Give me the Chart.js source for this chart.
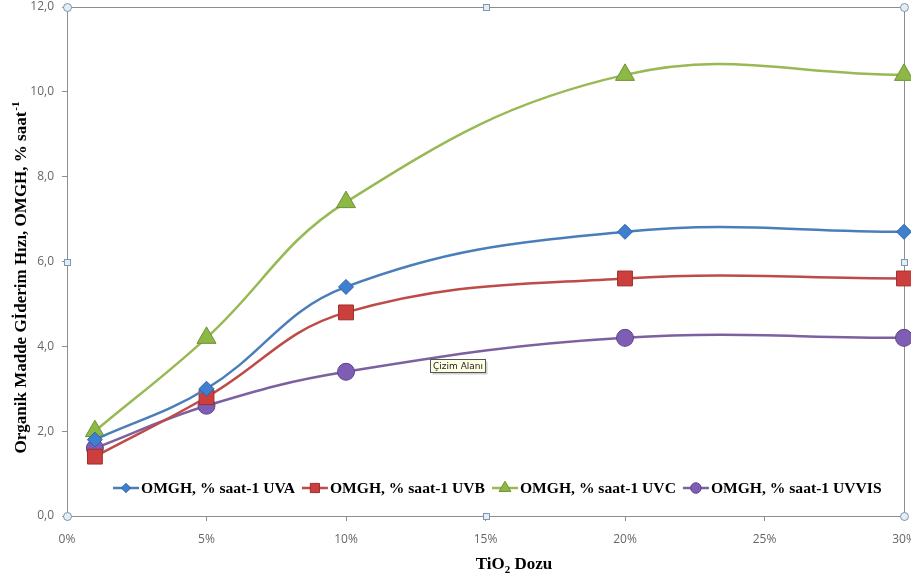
<!DOCTYPE html>
<html>
<head>
<meta charset="utf-8">
<script src="https://cdn.jsdelivr.net/npm/chart.js@4.4.1/dist/chart.umd.min.js"></script>
<style>
  html, body { margin: 0; padding: 0; background: #ffffff; }
  #wrap { width: 911px; height: 583px; position: relative; }
</style>
</head>
<body>
<div id="wrap"><canvas id="c" width="911" height="583"></canvas></div>
<script>
// TiO2 dose (%) and removal rates per lamp type
const doses = [1, 5, 10, 20, 30];
const uva   = [1.8, 3.0, 5.4, 6.7, 6.7];
const uvb   = [1.4, 2.8, 4.8, 5.6, 5.6];
const uvc   = [2.0, 4.2, 7.4, 10.4, 10.4];
const uvvis = [1.6, 2.6, 3.4, 4.2, 4.2];
const seriesLabels = ['OMGH, % saat-1 UVA', 'OMGH, % saat-1 UVB', 'OMGH, % saat-1 UVC', 'OMGH, % saat-1 UVVIS'];
const xTitle = ['TiO', '2', ' Dozu'];
const yTitle = ['Organik Madde Gİderim Hızı, OMGH, % saat', '-1'];
const hoverNote = 'Çizim Alanı';

const toPts = vals => vals.map((v, i) => ({ x: doses[i], y: v }));

function makeSet(label, vals, line, fill, edge, style, r) {
  return {
    label, data: toPts(vals),
    borderColor: line, borderWidth: 2.5,
    pointStyle: style, pointRadius: r, pointHoverRadius: r,
    pointBackgroundColor: fill, pointBorderColor: edge, pointBorderWidth: 1,
    tension: 0.4, fill: false, clip: false
  };
}

const datasets = [
  makeSet(seriesLabels[0], uva,   '#4A7EBB', '#3F7FD0', '#2F63A3', 'rectRot', 7.5),
  makeSet(seriesLabels[1], uvb,   '#BE4B48', '#CC3F3C', '#9A302E', 'rect', 10.5),
  makeSet(seriesLabels[2], uvc,   '#98B954', '#8DB846', '#6E9236', 'triangle', 11),
  makeSet(seriesLabels[3], uvvis, '#7D60A0', '#7E5DB5', '#5E4489', 'circle', 8.5)
];

const frameColor = '#8E8E8E';

const framePlugin = {
  id: 'frame',
  beforeDatasetsDraw(chart) {
    const { ctx, chartArea: a } = chart;
    ctx.save();
    ctx.strokeStyle = frameColor;
    ctx.lineWidth = 1;
    ctx.beginPath();
    ctx.moveTo(a.left + 0.5, a.top + 0.5);
    ctx.lineTo(a.right + 0.5, a.top + 0.5);
    ctx.lineTo(a.right + 0.5, a.bottom + 0.5);
    ctx.stroke();
    ctx.restore();
  },
  afterDatasetsDraw(chart) {
    const { ctx, chartArea: a } = chart;
    // legend row inside the plot area
    ctx.save();
    ctx.font = 'bold 15.6px "Liberation Serif", "Times New Roman", serif';
    ctx.textBaseline = 'middle';
    let x = a.left + 46;
    const y = 488;
    chart.data.datasets.forEach(ds => {
      ctx.strokeStyle = ds.borderColor;
      ctx.lineWidth = 2.5;
      ctx.beginPath();
      ctx.moveTo(x, y); ctx.lineTo(x + 26, y);
      ctx.stroke();
      ctx.fillStyle = ds.pointBackgroundColor;
      ctx.strokeStyle = ds.pointBorderColor;
      ctx.lineWidth = 1;
      Chart.helpers.drawPoint(ctx, { pointStyle: ds.pointStyle, radius: ds.pointRadius * 0.62, rotation: 0, borderWidth: 1 }, x + 13, y);
      ctx.fillStyle = '#000000';
      ctx.fillText(ds.label, x + 28, y + 1);
      x += 28 + ctx.measureText(ds.label).width + 7;
    });
    ctx.restore();
  },
  afterDraw(chart) {
    const { ctx, chartArea: a } = chart;
    ctx.save();
    // axis titles
    ctx.fillStyle = '#000000';
    const big = 'bold 17px "Liberation Serif", "Times New Roman", serif';
    const small = 'bold 11px "Liberation Serif", "Times New Roman", serif';
    ctx.textBaseline = 'alphabetic';
    ctx.font = big;
    const w0 = ctx.measureText(xTitle[0]).width;
    const w2 = ctx.measureText(xTitle[2]).width;
    ctx.font = small;
    const w1 = ctx.measureText(xTitle[1]).width;
    let tx = 514 - (w0 + w1 + w2) / 2;
    const ty = 569;
    ctx.font = big; ctx.fillText(xTitle[0], tx, ty); tx += w0;
    ctx.font = small; ctx.fillText(xTitle[1], tx, ty + 4); tx += w1;
    ctx.font = big; ctx.fillText(xTitle[2], tx, ty);

    ctx.save();
    ctx.translate(26, 278);
    ctx.rotate(-Math.PI / 2);
    ctx.font = big;
    const m0 = ctx.measureText(yTitle[0]).width;
    ctx.font = small;
    const m1 = ctx.measureText(yTitle[1]).width;
    let sx = -(m0 + m1) / 2;
    ctx.font = big; ctx.fillText(yTitle[0], sx, 0); sx += m0;
    ctx.font = small; ctx.fillText(yTitle[1], sx + 1, -7);
    ctx.restore();

    // selection handles around the plot area
    const cx = (a.left + a.right) / 2, cy = (a.top + a.bottom) / 2;
    ctx.lineWidth = 1;
    ctx.strokeStyle = '#7E97AE';
    ctx.fillStyle = '#E4EDF5';
    [[a.left, a.top], [a.right, a.top], [a.left, a.bottom], [a.right, a.bottom]].forEach(([px, py]) => {
      ctx.beginPath();
      ctx.arc(px + 0.5, py + 0.5, 4, 0, Math.PI * 2);
      ctx.fill(); ctx.stroke();
    });
    [[cx, a.top], [cx, a.bottom], [a.left, cy], [a.right, cy]].forEach(([px, py]) => {
      ctx.fillRect(Math.round(px) - 2.5, Math.round(py) - 2.5, 6, 6);
      ctx.strokeRect(Math.round(px) - 2.5, Math.round(py) - 2.5, 6, 6);
    });

    // hover note box
    ctx.font = '9px "DejaVu Sans", sans-serif';
    const nw = ctx.measureText(hoverNote).width;
    const bx = 430.5, by = 359.5, bw = Math.round(nw) + 5, bh = 13;
    ctx.fillStyle = 'rgba(0,0,0,0.18)';
    ctx.fillRect(bx + 2, by + 2, bw, bh);
    ctx.fillStyle = '#FFFFE6';
    ctx.fillRect(bx, by, bw, bh);
    ctx.strokeStyle = '#555555';
    ctx.strokeRect(bx, by, bw, bh);
    ctx.fillStyle = '#222222';
    ctx.textBaseline = 'middle';
    ctx.fillText(hoverNote, bx + 2.5, by + bh / 2 + 0.5);
    ctx.restore();
  }
};

const tickFont = { family: '"Open Sans", "DejaVu Sans", sans-serif', size: 12 };

new Chart(document.getElementById('c'), {
  type: 'line',
  data: { datasets },
  options: {
    responsive: false,
    animation: false,
    events: [],
    layout: { autoPadding: false, padding: { top: 7, right: 7, left: 0, bottom: 0 } },
    plugins: { legend: { display: false }, tooltip: { enabled: false } },
    scales: {
      x: {
        type: 'linear', min: 0, max: 30,
        ticks: { stepSize: 5, color: '#666666', font: tickFont, padding: 11, maxRotation: 0,
                 callback: v => v + '%' },
        grid: { drawOnChartArea: false, drawTicks: true, tickLength: 5, color: frameColor },
        border: { color: frameColor, width: 1 },
        afterFit(s) { s.height = 67; s.paddingLeft = 0; s.paddingRight = 0; }
      },
      y: {
        min: 0, max: 12,
        ticks: { stepSize: 2, color: '#666666', font: tickFont, padding: 8,
                 callback: v => v.toFixed(1).replace('.', ',') },
        grid: { drawOnChartArea: false, drawTicks: true, tickLength: 5, color: frameColor },
        border: { color: frameColor, width: 1 },
        afterFit(s) { s.width = 67; s.paddingTop = 0; s.paddingBottom = 0; }
      }
    }
  },
  plugins: [framePlugin]
});
</script>
</body>
</html>
